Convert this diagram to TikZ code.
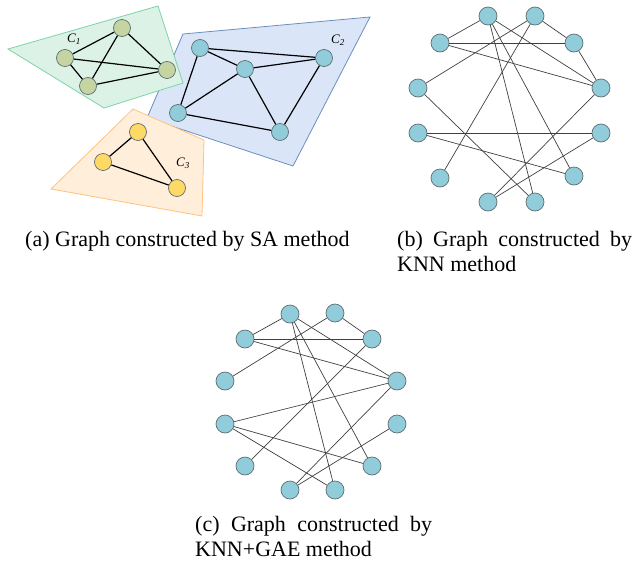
\documentclass[tikz,border=0pt]{standalone}
\usepackage{fontspec}
\setmainfont{Liberation Serif}
\usetikzlibrary{%
    positioning
}

\definecolor{gfill}{HTML}{DDF2E6}
\definecolor{gline}{HTML}{7DD3A8}
\definecolor{bfill}{HTML}{DAE6F8}
\definecolor{bline}{HTML}{6C8EBF}
\definecolor{ofill}{HTML}{FFEEDA}
\definecolor{oline}{HTML}{FFC27F}
\definecolor{vgreen}{HTML}{C5D5A2}
\definecolor{vblue}{HTML}{91CCDA}
\definecolor{vorange}{HTML}{FFD966}
\definecolor{vline}{HTML}{5E6E72}

\begin{document}
\begin{tikzpicture}[x=1pt,y=-1pt,
    every node/.style={inner sep=0pt},
    vertex/.style={circle,draw=vline,line width=0.7pt,minimum size=18pt,fill=vblue},
    knnedge/.style={draw=black!75,line width=0.7pt},
    saedge/.style={draw=black,line width=1.2pt},
    region/.style={line width=0.8pt},
    clabel/.style={font=\fontsize{13}{13}\selectfont\itshape},
    caption/.style={font=\fontsize{22}{25}\selectfont}]
    \useasboundingbox (0,0) rectangle (633,563);

    % (a) SA method
    \filldraw[region,draw=bline,fill=bfill] (183,34) -- (370,17) -- (293,166) -- (147,118) -- cycle;
    \filldraw[region,draw=gline,fill=gfill] (8,49) -- (158,6) -- (183,83) -- (104,108) -- cycle;
    \filldraw[region,draw=oline,fill=ofill] (133,109) -- (204,140) -- (202,216) -- (51,189) -- cycle;

    \node[vertex,fill=vgreen,minimum size=17pt] (g1) at (122,28) {};
    \node[vertex,fill=vgreen,minimum size=17pt] (g2) at (65,58) {};
    \node[vertex,fill=vgreen,minimum size=17pt] (g3) at (167,70) {};
    \node[vertex,fill=vgreen,minimum size=17pt] (g4) at (88,86) {};

    \node[vertex,minimum size=17pt] (s1) at (200,48) {};
    \node[vertex,minimum size=17pt] (s2) at (245,69) {};
    \node[vertex,minimum size=17pt] (s3) at (324,58) {};
    \node[vertex,minimum size=17pt] (s4) at (178,113) {};
    \node[vertex,minimum size=17pt] (s5) at (280,132) {};

    \node[vertex,fill=vorange,minimum size=17pt] (o1) at (138,132) {};
    \node[vertex,fill=vorange,minimum size=17pt] (o2) at (103,162) {};
    \node[vertex,fill=vorange,minimum size=17pt] (o3) at (177,188) {};

    \node[clabel] (c1) at (74,39) {C\textsubscript{1}};
    \node[clabel] (c2) at (338,40) {C\textsubscript{2}};
    \node[clabel] (c3) at (183,163) {C\textsubscript{3}};

    \foreach \Source/\Target in {g1/g2, g1/g3, g1/g4, g2/g3, g2/g4, g4/g3,
                                 s1/s2, s1/s3, s2/s3, s1/s4, s2/s4, s2/s5, s3/s5, s4/s5,
                                 o1/o2, o1/o3, o2/o3}
        \draw[saedge] (\Source) -- (\Target);

    % (b) KNN method
    \foreach \Name/\X/\Y in {A/488/16, B/535/16, C/440/43, D/574/43,
                             E/418/88, F/601/88, G/418/133, H/601/133,
                             I/440/178, J/574/176, K/488/202, L/535/202}
        \node[vertex] (b\Name) at (\X,\Y) {};

    \foreach \Source/\Target in {A/C, B/D, C/D, C/F, A/F, A/L, A/J, B/E,
                                 B/I, D/F, E/L, G/H, G/J, F/K, H/K}
        \draw[knnedge] (b\Source) -- (b\Target);

    % (c) KNN+GAE method
    \foreach \Name/\X/\Y in {A/290/314, B/335/313, C/245/339, D/372/339,
                             E/225/381, F/397/381, G/225/424, H/397/424,
                             I/245/466, J/372/466, K/290/490, L/335/490}
        \node[vertex] (c\Name) at (\X,\Y) {};

    \foreach \Source/\Target in {A/C, B/D, C/D, C/F, A/F, A/L, A/J, B/E,
                                 D/I, G/F, G/J, G/L, F/K, H/K}
        \draw[knnedge] (c\Source) -- (c\Target);

    % captions
    \node[caption,anchor=north west] (capa) at (25,231) {(a) Graph constructed by SA method};
    \node[caption,anchor=north west,text width=235pt,align=justify] (capb) at (397,231)
        {(b) Graph constructed by KNN method};
    \node[caption,anchor=north west,text width=237pt,align=justify] (capc) at (195,516)
        {(c) Graph constructed by KNN+GAE method};
\end{tikzpicture}
\end{document}
